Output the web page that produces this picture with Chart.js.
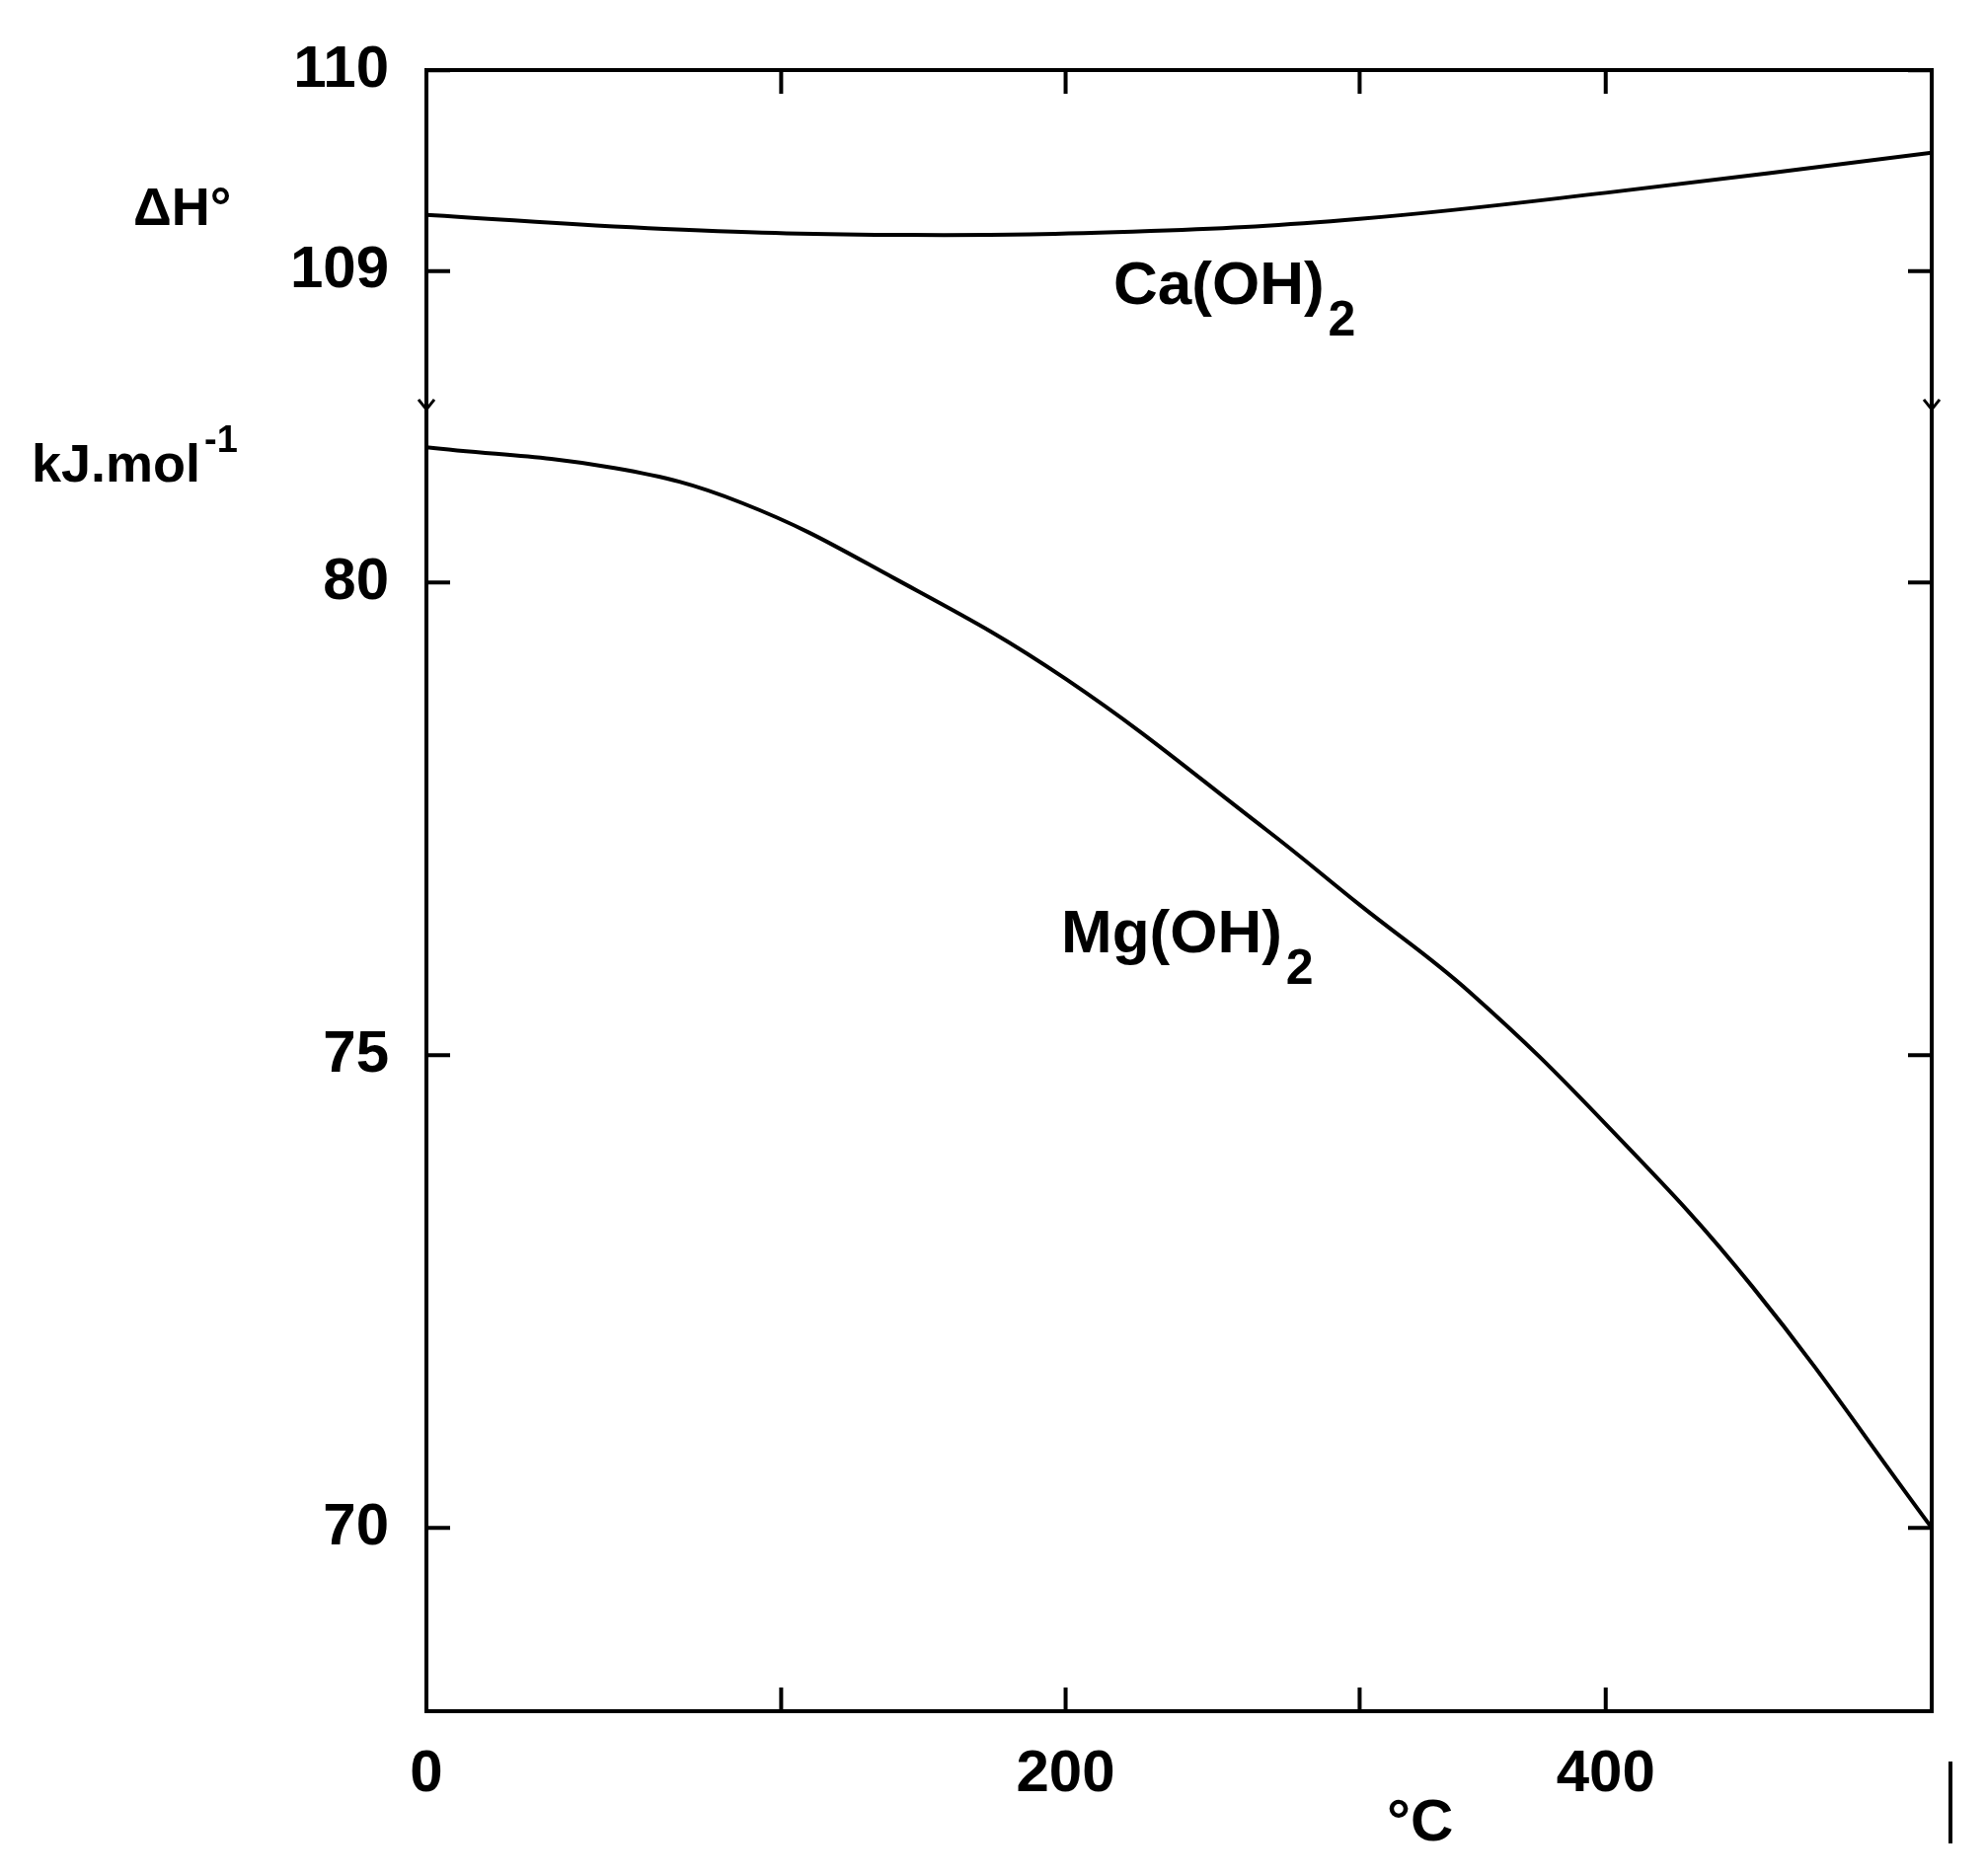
<!DOCTYPE html>
<html><head><meta charset="utf-8">
<script src="https://cdn.jsdelivr.net/npm/chart.js@4"></script>
<style>html,body{margin:0;background:#fff}#w{width:2012px;height:1901px}</style>
</head><body><div id="w"><canvas id="c"></canvas></div>
<script>
// Data (real units)
const caTemp = [0, 67, 145, 229, 300, 400, 500];
const caDH   = [109.28, 109.21, 109.18, 109.20, 109.26, 109.39, 109.59];
const mgTemp = [0, 53, 89, 140, 200, 268, 300, 345, 400, 445, 500];
const mgDH   = [81.43, 81.21, 80.84, 80.04, 78.98, 77.39, 76.59, 75.66, 74.27, 72.55, 70.0];
const yTickValues = [70, 75, 80, 109, 110];
const xTickValues = [0, 200, 400];
const xMinorTicks = [100, 200, 300, 400];

// Broken / distorted axes of the original figure
const xKnots = [[0,0],[100,111],[200,200],[300,292],[400,369],[500,471]];
function xv(t){for(let i=1;i<xKnots.length;i++){const [a,va]=xKnots[i-1],[b,vb]=xKnots[i];if(t<=b)return va+(t-a)*(vb-va)/(b-a);}return 471;}
function yv(v){return v>100 ? 81.83+(v-108.31)*2.122 : v;}
const F='"Liberation Sans", Arial, sans-serif';
const toPts=(xs,ys)=>xs.map((x,i)=>({x:xv(x),y:yv(ys[i])}));

function sub(c,main,s,x,y){
  c.font='bold 62px '+F;c.fillText(main,x,y);
  const w=c.measureText(main).width;
  c.font='bold 50px '+F;c.fillText(s,x+w+4,y+32);
}
const deco={id:'deco',afterDraw(ch){
  const c=ch.ctx,a=ch.chartArea,X=ch.scales.x,Y=ch.scales.y;
  c.save();c.strokeStyle='#000';c.lineWidth=4;
  c.strokeRect(a.left,a.top,a.right-a.left,a.bottom-a.top);
  const L=24;
  yTickValues.forEach(v=>{const p=Y.getPixelForValue(yv(v));
    c.beginPath();c.moveTo(a.left,p);c.lineTo(a.left+L,p);c.moveTo(a.right,p);c.lineTo(a.right-L,p);c.stroke();});
  xMinorTicks.forEach(t=>{const p=X.getPixelForValue(xv(t));
    c.beginPath();c.moveTo(p,a.bottom);c.lineTo(p,a.bottom-L);c.moveTo(p,a.top);c.lineTo(p,a.top+L);c.stroke();});
  const yb=Y.getPixelForValue(81.83);
  c.lineWidth=3;
  [a.left,a.right].forEach(x=>{c.beginPath();c.moveTo(x-8,yb-10);c.lineTo(x,yb);c.lineTo(x+8,yb-10);c.moveTo(x,yb-14);c.lineTo(x,yb+14);c.stroke();});
  c.lineWidth=4;
  c.beginPath();c.moveTo(1976,1785);c.lineTo(1976,1868);c.stroke();
  c.fillStyle='#000';c.textBaseline='alphabetic';
  c.font='bold 54px '+F;
  c.fillText('\u0394H\u00b0',135,228);
  c.fillText('kJ.mol',32,488);
  const w=c.measureText('kJ.mol').width;
  c.font='bold 38px '+F;c.fillText('-1',32+w+4,458);
  c.font='bold 60px '+F;c.fillText('\u00b0C',1405,1865);
  sub(c,'Ca(OH)','2',1128,308);
  sub(c,'Mg(OH)','2',1075,965);
  c.restore();
}};

new Chart(document.getElementById('c'),{
  type:'scatter',
  data:{datasets:[
    {label:'Ca(OH)2',data:toPts(caTemp,caDH),showLine:true,borderColor:'#000',borderWidth:4,pointRadius:0,tension:0.4},
    {label:'Mg(OH)2',data:toPts(mgTemp,mgDH),showLine:true,borderColor:'#000',borderWidth:4,pointRadius:0,tension:0.4}
  ]},
  options:{responsive:true,maintainAspectRatio:false,animation:false,
    layout:{padding:{top:71,right:55,left:0,bottom:0}},
    plugins:{legend:{display:false},tooltip:{enabled:false}},
    scales:{
      x:{type:'linear',min:0,max:471,grid:{display:false},border:{display:false},
        afterBuildTicks:s=>{s.ticks=xTickValues.map(t=>({value:xv(t),label:String(t)}));},
        afterFit:s=>{s.height=167;},
        ticks:{color:'#000',padding:20,font:{family:F,size:60,weight:'bold'},callback:(v,i)=>String(xTickValues[i])}},
      y:{type:'linear',min:68.06,max:85.42,grid:{display:false},border:{display:false},
        afterBuildTicks:s=>{s.ticks=yTickValues.map(t=>({value:yv(t)}));},
        afterFit:s=>{s.width=432;},
        ticks:{color:'#000',padding:30,font:{family:F,size:60,weight:'bold'},callback:(v,i)=>String(yTickValues[i])}}
    }},
  plugins:[deco]
});
</script></body></html>
